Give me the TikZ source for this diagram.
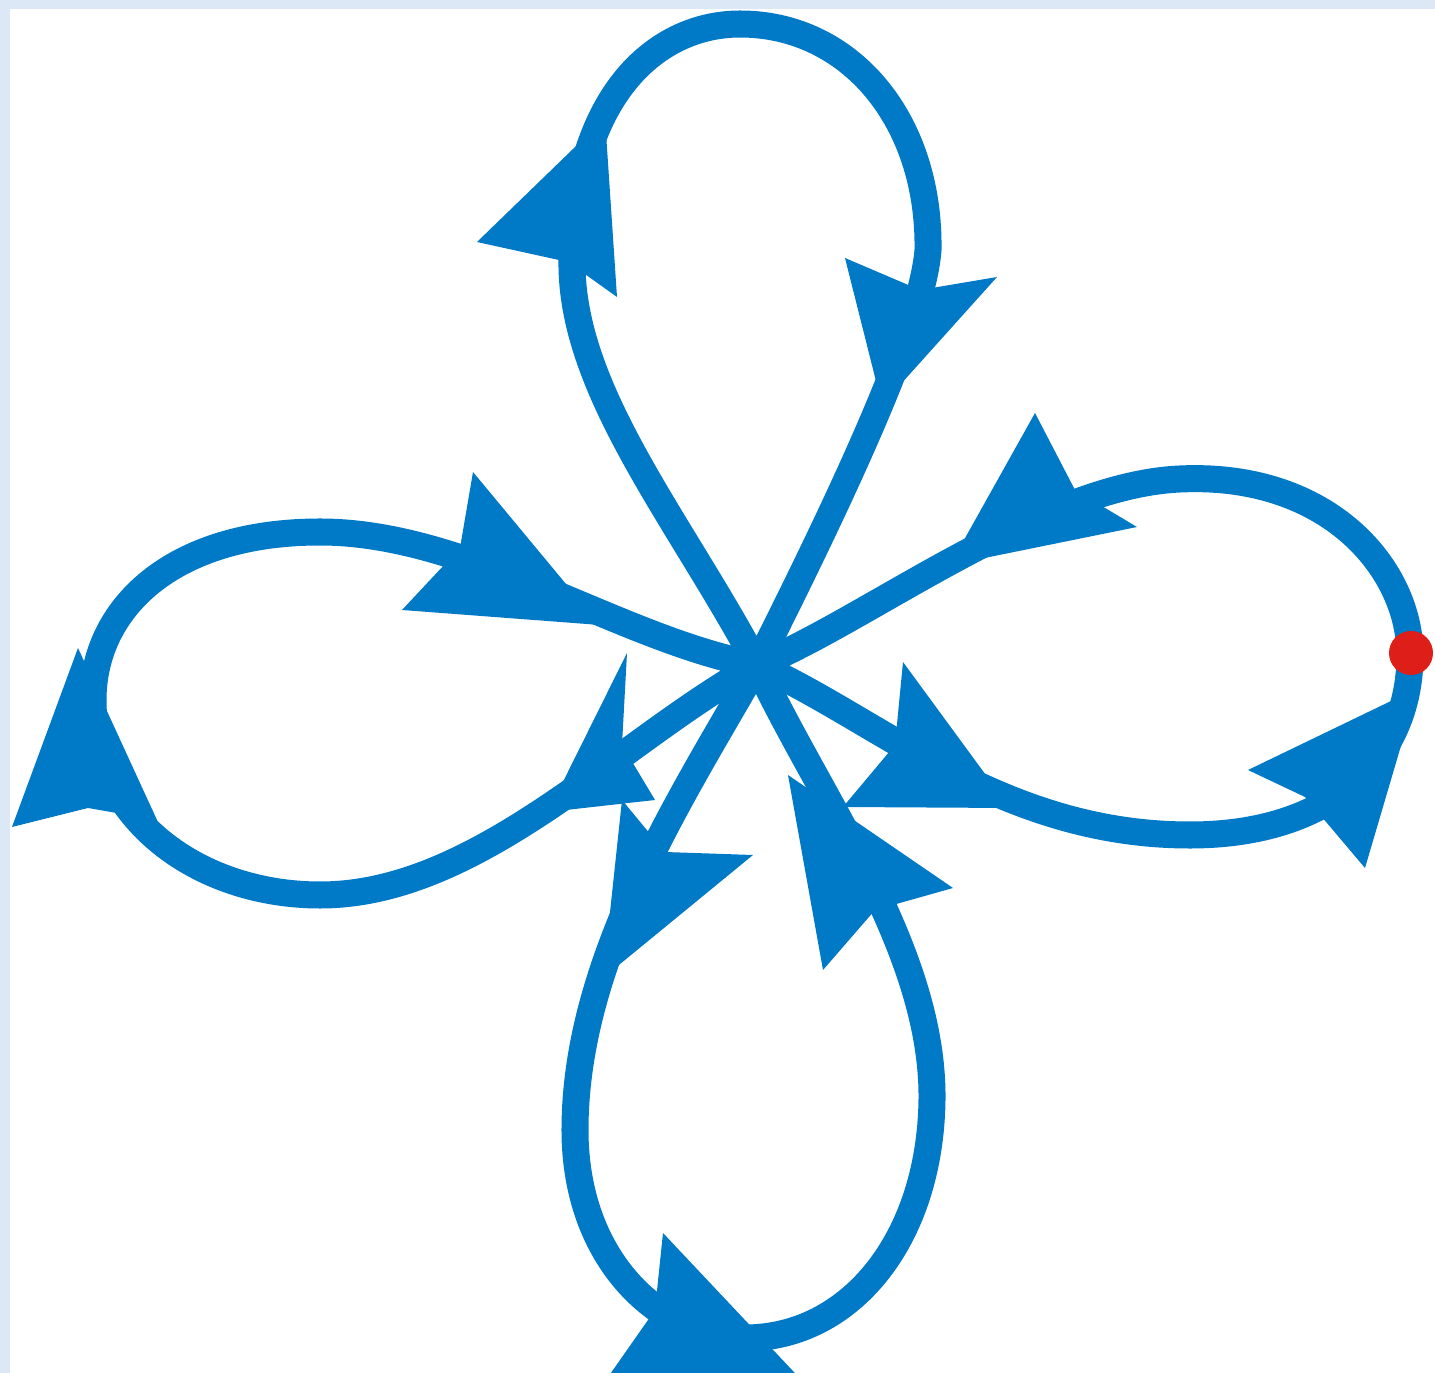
\documentclass[tikz,border=0pt]{standalone}
\usepackage{tikz}
\definecolor{petalblue}{RGB}{0,122,199}
\definecolor{dotred}{RGB}{222,30,24}
\definecolor{frameblue}{RGB}{221,232,247}

\begin{document}
\begin{tikzpicture}[x=0.01cm,y=-0.01cm,
    petal/.style={draw=petalblue,line width=0.27cm,line join=round},
    head/.style={fill=petalblue}]
    \useasboundingbox (0,0) rectangle (1435,1373);
    \clip (0,0) rectangle (1435,1373);
    \fill[frameblue] (0,0) rectangle (1435,1373);
    \fill[white] (10,9) rectangle (1435,1373);
    \coordinate (c) at (757,665);
    \coordinate (dot) at (1411,653);
    \draw[petal] (c) .. controls (680,520) and (570,390) .. (572,260)
        .. controls (575,90) and (660,24) .. (740,24)
        .. controls (850,24) and (930,120) .. (928,250)
        .. controls (922,330) and (830,520) .. (c);
    \draw[petal] (c) .. controls (860,625) and (1040,485) .. (1180,479)
        .. controls (1330,472) and (1410,570) .. (1410,655)
        .. controls (1410,760) and (1330,835) .. (1190,835)
        .. controls (1000,835) and (880,720) .. (c);
    \draw[petal] (c) .. controls (620,640) and (470,532) .. (320,532)
        .. controls (170,532) and (93,610) .. (93,700)
        .. controls (93,820) and (200,895) .. (320,895)
        .. controls (480,895) and (620,740) .. (c);
    \draw[petal] (c) .. controls (680,800) and (575,960) .. (575,1130)
        .. controls (575,1260) and (660,1338) .. (745,1338)
        .. controls (850,1338) and (930,1240) .. (932,1100)
        .. controls (934,950) and (820,800) .. (c);
    \fill[head] (605,118) -- (477,242) -- (568,262) -- (617,297) -- cycle;
    \fill[head] (882,405) -- (845,258) -- (920,290) -- (997,277) -- cycle;
    \fill[head] (950,565) -- (1035,413) -- (1075,490) -- (1137,527) -- cycle;
    \fill[head] (1010,808) -- (903,662) -- (895,745) -- (843,807) -- cycle;
    \fill[head] (1418,688) -- (1248,770) -- (1305,797) -- (1365,868) -- cycle;
    \fill[head] (788,775) -- (953,888) -- (875,910) -- (823,970) -- cycle;
    \fill[head] (825,1405) -- (663,1233) -- (655,1310) -- (592,1400) -- cycle;
    \fill[head] (603,978) -- (753,855) -- (665,852) -- (622,800) -- cycle;
    \fill[head] (600,625) -- (473,472) -- (460,548) -- (402,610) -- cycle;
    \fill[head] (78,648) -- (12,827) -- (88,808) -- (157,820) -- cycle;
    \fill[head] (548,812) -- (627,653) -- (622,745) -- (655,800) -- cycle;
    \fill[dotred] (dot) circle (22);
\end{tikzpicture}
\end{document}
